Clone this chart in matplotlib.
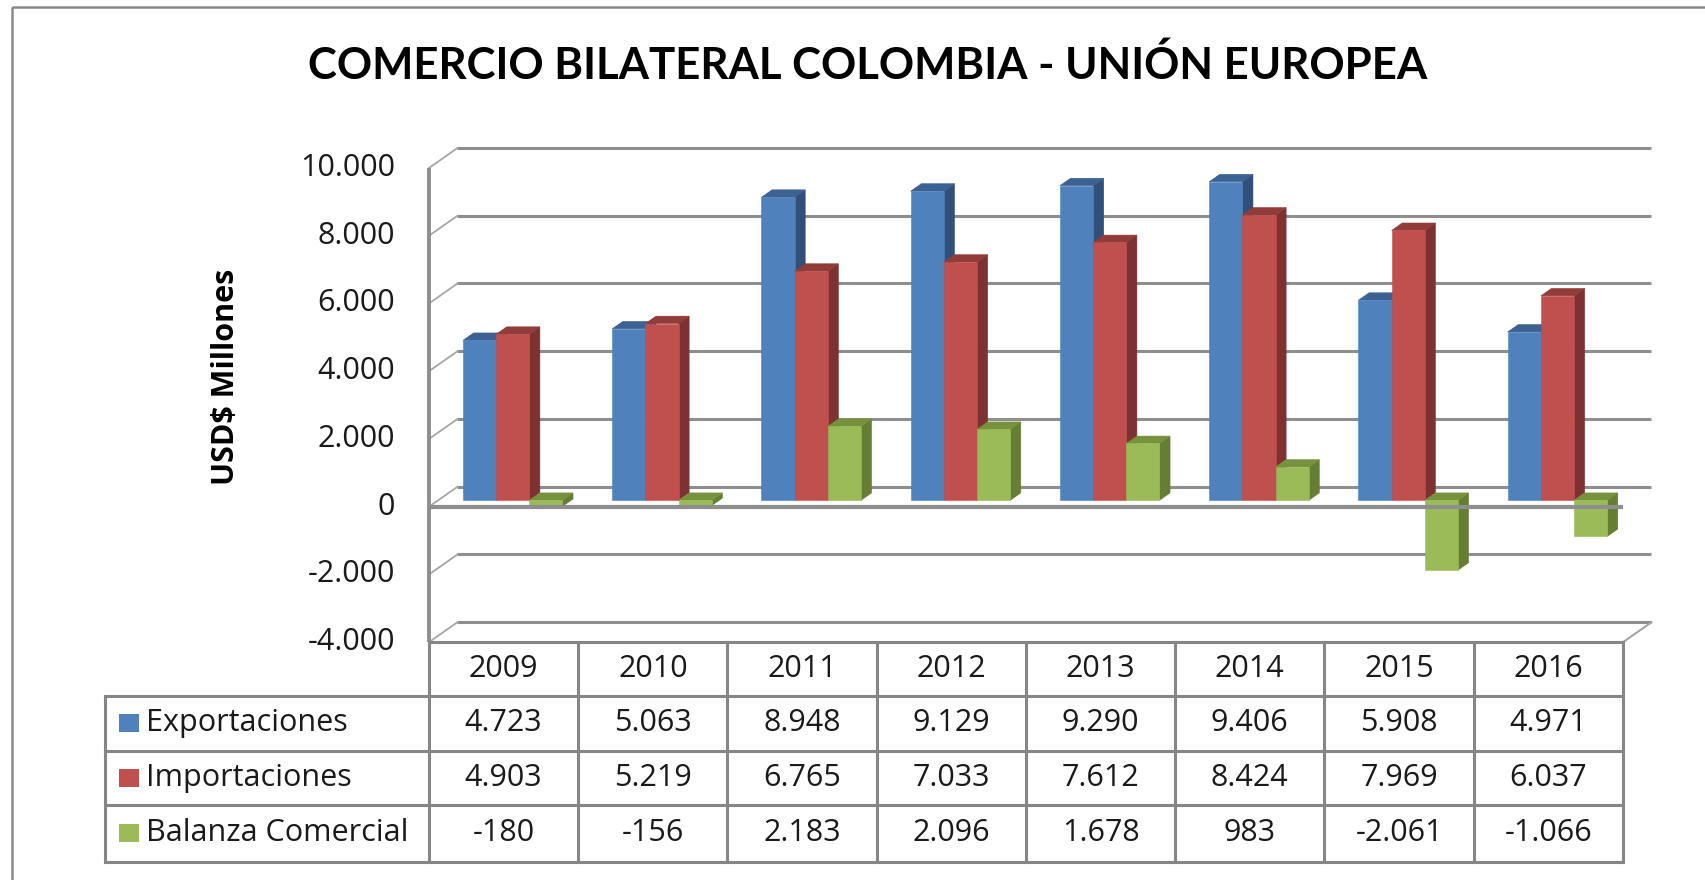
import matplotlib
matplotlib.use('Agg')
import matplotlib.pyplot as plt
from matplotlib.patches import Polygon, Rectangle
import matplotlib.transforms as mtransforms

# ---------------- data ----------------
years = ['2009', '2010', '2011', '2012', '2013', '2014', '2015', '2016']
exportaciones = [4723, 5063, 8948, 9129, 9290, 9406, 5908, 4971]
importaciones = [4903, 5219, 6765, 7033, 7612, 8424, 7969, 6037]
balanza = [-180, -156, 2183, 2096, 1678, 983, -2061, -1066]
series_names = ['Exportaciones', 'Importaciones', 'Balanza Comercial']
y_ticks = [-4000, -2000, 0, 2000, 4000, 6000, 8000, 10000]
title = 'COMERCIO BILATERAL COLOMBIA - UNIÓN EUROPEA'
ylabel = 'USD$ Millones'

# colours: (front, top, side)
colors = [('#4F81BD', '#3B6293', '#30507A'),
          ('#C0504D', '#923C3A', '#7D3231'),
          ('#9BBB59', '#76923C', '#657E34')]

def fmt(v):
    return f"{v:,}".replace(",", ".")

plt.rcParams['font.family'] = ['Open Sans', 'DejaVu Sans']
TXT = dict(family=['Open Sans', 'DejaVu Sans'], fontsize=22, color='#1a1a1a')

W, H = 1706, 880
fig = plt.figure(figsize=(W / 100, H / 100), dpi=100)
fig.patch.set_facecolor('white')

# pixel transform (origin top-left)
fpx = mtransforms.Affine2D().scale(1 / W, -1 / H).translate(0, 1) + fig.transFigure

AX_L, AX_R, AX_T, AX_B = 429, 1623, 168, 642.2
ax = fig.add_axes([AX_L / W, 1 - AX_B / H, (AX_R - AX_L) / W, (AX_B - AX_T) / H])
ax.set_xlim(0, len(years))
ax.set_ylim(y_ticks[0], y_ticks[-1])
ax.axis('off')

px_x = (AX_R - AX_L) / len(years)
px_y = (AX_B - AX_T) / (y_ticks[-1] - y_ticks[0])
DEPTH_X, DEPTH_Y = 28.5, 20.0

def off(d):
    return DEPTH_X * d / px_x, DEPTH_Y * d / px_y

GRID = '#8E8E8E'
n = len(years)

# back wall gridlines and left-wall diagonals
bx, by = off(1.0)
for t in y_ticks:
    ax.plot([bx, n + bx], [t + by, t + by], color=GRID, lw=2.2, clip_on=False,
            zorder=1, solid_capstyle='butt')
    ax.plot([0, bx], [t, t + by], color='#A6A6A6', lw=1.3, clip_on=False, zorder=1)
# floor right edge
ax.plot([n, n + bx], [y_ticks[0], y_ticks[0] + by], color='#A6A6A6', lw=1.5,
        clip_on=False, zorder=1)

# front vertical axis
ax.plot([0, 0], [y_ticks[0], y_ticks[-1]], color=GRID, lw=2.8, clip_on=False, zorder=6,
        solid_capstyle='butt')

# bars
series = [exportaciones, importaciones, balanza]
bw = 1 / 4.5
gap = 0.75 * bw
fa, fb = off(0.32)
ba, bb = off(0.69)
for i in range(n):
    for j, vals in enumerate(series):
        v = vals[i]
        top = max(v, 0)
        bot = min(v, 0)
        x0 = i + gap + j * bw
        x1 = x0 + bw
        cf, ct, cs = colors[j]
        front = [(x0 + fa, bot + fb), (x1 + fa, bot + fb), (x1 + fa, top + fb), (x0 + fa, top + fb)]
        side = [(x1 + fa, bot + fb), (x1 + ba, bot + bb), (x1 + ba, top + bb), (x1 + fa, top + fb)]
        topf = [(x0 + fa, top + fb), (x1 + fa, top + fb), (x1 + ba, top + bb), (x0 + ba, top + bb)]
        for poly, c in ((side, cs), (topf, ct), (front, cf)):
            ax.add_patch(Polygon(poly, closed=True, facecolor=c, edgecolor=c, lw=0.4,
                                 clip_on=False, zorder=3))

# front zero line
ax.plot([0, n], [0, 0], color=GRID, lw=3.0, clip_on=False, zorder=5, solid_capstyle='butt')

# tick labels
tick_tr = mtransforms.blended_transform_factory(fpx, ax.transData)
for t in y_ticks:
    ax.text(395, t, fmt(t), transform=tick_tr, ha='right', va='center', **TXT)

# axis label
fig.text(226 / W, 1 - 377 / H, ylabel, rotation=90, ha='center', va='center',
         fontsize=22, fontweight='bold', color='black', family=['Open Sans', 'DejaVu Sans'])

# title
fig.text(868 / W, 1 - 79 / H, title, ha='center', va='baseline', fontsize=31.5,
         fontweight='bold', color='black', family=['Lato', 'DejaVu Sans'])

# ---------------- data table ----------------
TL = '#868686'
row_y = [642, 696, 750.7, 805, 861.7]
label_left = 105
col_x = [AX_L + k * px_x for k in range(n + 1)]

def hline(y, x0, x1, lw=2.2):
    fig.add_artist(plt.Line2D([x0, x1], [y, y], transform=fpx, color=TL, lw=lw,
                              solid_capstyle='projecting'))

def vline(x, y0, y1, lw=2.2):
    fig.add_artist(plt.Line2D([x, x], [y0, y1], transform=fpx, color=TL, lw=lw,
                              solid_capstyle='projecting'))

hline(row_y[0], col_x[0], col_x[-1])
for y in row_y[1:]:
    hline(y, label_left, col_x[-1])
for x in col_x:
    vline(x, row_y[0], row_y[-1])
vline(label_left, row_y[1], row_y[-1])

# header
for k, yr in enumerate(years):
    fig.text((col_x[k] + col_x[k + 1]) / 2 / W, 1 - (row_y[0] + row_y[1]) / 2 / H, yr,
             ha='center', va='center', **TXT)

for r, (name, vals) in enumerate(zip(series_names, series)):
    yc = (row_y[r + 1] + row_y[r + 2]) / 2
    fig.add_artist(Rectangle((119, yc - 9), 20, 18, transform=fpx, facecolor=colors[r][0],
                             edgecolor='none'))
    fig.text(146 / W, 1 - yc / H, name, ha='left', va='center', **TXT)
    for k, v in enumerate(vals):
        fig.text((col_x[k] + col_x[k + 1]) / 2 / W, 1 - yc / H, fmt(v), ha='center',
                 va='center', **TXT)

# outer chart border
fig.add_artist(Rectangle((12, 7), W + 50, H + 50, transform=fpx, facecolor='none',
                         edgecolor='#8A8A8A', lw=1.8))

fig.savefig('out.png', dpi=100, facecolor='white')
